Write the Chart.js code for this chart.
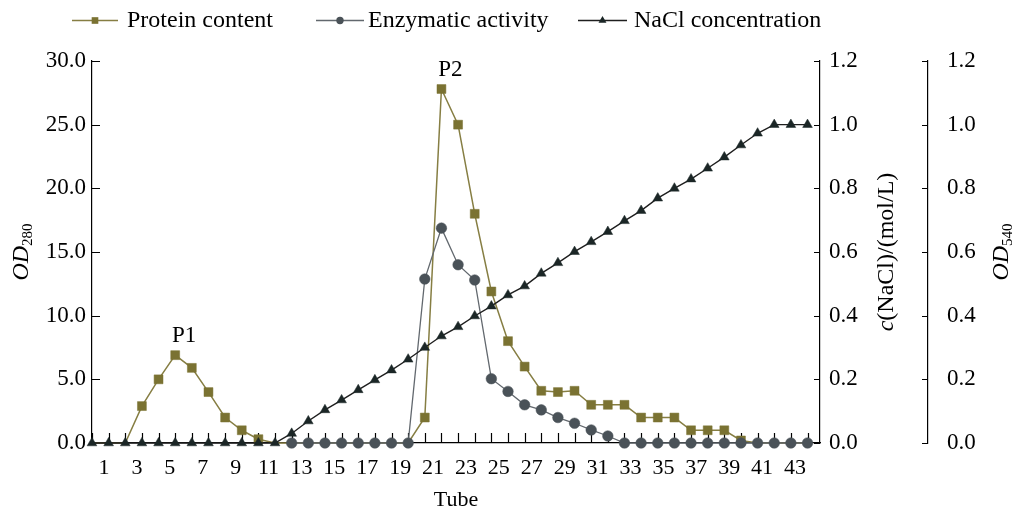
<!DOCTYPE html>
<html>
<head>
<meta charset="utf-8">
<script src="https://cdn.jsdelivr.net/npm/chart.js@4.4.1/dist/chart.umd.min.js"></script>
<style>
  html, body { margin: 0; padding: 0; background: #fff; }
  canvas { display: block; }
</style>
</head>
<body>
<canvas id="chart" width="1014" height="513"></canvas>
<script>
// tube numbers and tick labels
const tubes = [0, 1, 2, 3, 4, 5, 6, 7, 8, 9, 10, 11, 12, 13, 14, 15, 16, 17, 18, 19, 20, 21,
               22, 23, 24, 25, 26, 27, 28, 29, 30, 31, 32, 33, 34, 35, 36, 37, 38, 39, 40, 41, 42, 43];
const tubeTicks = [1, 3, 5, 7, 9, 11, 13, 15, 17, 19, 21, 23, 25, 27, 29, 31, 33, 35, 37, 39, 41, 43];
const od280Ticks = [0, 5, 10, 15, 20, 25, 30];
const naclTicks = [0, 0.2, 0.4, 0.6, 0.8, 1.0, 1.2];
const od540Ticks = [0, 0.2, 0.4, 0.6, 0.8, 1.0, 1.2];

// series (one value per tube)
const protein = [0, 0, 0, 2.9, 5.0, 6.9, 5.9, 4.0, 2.0, 1.0, 0.3, 0, 0, 0, 0, 0, 0, 0, 0, 0,
                 2.0, 27.8, 25.0, 18.0, 11.9, 8.0, 6.0, 4.1, 4.0, 4.1, 3.0, 3.0, 3.0, 2.0, 2.0, 2.0,
                 1.0, 1.0, 1.0, 0.2, 0, 0, 0, 0];
const enzyme = [null, null, null, null, null, null, null, null, null, null, null, null,
                0, 0, 0, 0, 0, 0, 0, 0, 0.515, 0.675, 0.56, 0.512, 0.202, 0.162, 0.12, 0.104,
                0.08, 0.062, 0.041, 0.022, 0, 0, 0, 0, 0, 0, 0, 0, 0, 0, 0, 0];
const nacl = [0, 0, 0, 0, 0, 0, 0, 0, 0, 0, 0, 0, 0.03, 0.069, 0.104, 0.135, 0.167, 0.198, 0.229,
              0.263, 0.30, 0.336, 0.365, 0.399, 0.43, 0.465, 0.493, 0.533, 0.566, 0.601, 0.632,
              0.664, 0.698, 0.730, 0.769, 0.80, 0.829, 0.863, 0.898, 0.936, 0.973, 1.0, 1.0, 1.0];

const seriesNames = ['Protein content', 'Enzymatic activity', 'NaCl concentration'];
const peakNames = ['P1', 'P2'];
const peakTubes = [5, 21];

const SERIF = '"Liberation Serif", "Times New Roman", serif';
Chart.defaults.font.family = SERIF;
Chart.defaults.color = '#000';

const lineColors = ['#867e43', '#62686e', '#1e1e1e'];
const markColors = ['#7a7232', '#4a5258', '#1b2626'];
const markStyles = ['rect', 'circle', 'triangle'];

function toPoints(values) {
    return values.map((v, i) => ({ x: tubes[i], y: v }));
}

function drawMarker(ctx, style, x, y, r, color) {
    ctx.fillStyle = color;
    ctx.beginPath();
    if (style === 'rect') {
        const s = r * Math.SQRT1_2;
        ctx.rect(x - s, y - s, 2 * s, 2 * s);
    } else if (style === 'circle') {
        ctx.arc(x, y, r, 0, Math.PI * 2);
    } else {
        ctx.moveTo(x, y - r);
        ctx.lineTo(x + r * 0.866, y + r * 0.5);
        ctx.lineTo(x - r * 0.866, y + r * 0.5);
        ctx.closePath();
    }
    ctx.fill();
}

// small ticks pointing into the plot, like the original figure
const inwardTicks = {
    id: 'inwardTicks',
    beforeDatasetsDraw(chart) {
        const { ctx, chartArea, scales } = chart;
        ctx.save();
        ctx.strokeStyle = '#000';
        ctx.lineWidth = 1.2;
        ctx.beginPath();
        tubes.forEach(t => {
            const px = Math.round(scales.x.getPixelForValue(t)) + 0.5;
            ctx.moveTo(px, chartArea.bottom);
            ctx.lineTo(px, chartArea.bottom - 10);
        });
        od280Ticks.forEach(v => {
            const py = Math.round(scales.y.getPixelForValue(v)) + 0.5;
            ctx.moveTo(chartArea.left, py);
            ctx.lineTo(chartArea.left + 8, py);
        });
        naclTicks.forEach(v => {
            const py = Math.round(scales.yNaCl.getPixelForValue(v)) + 0.5;
            ctx.moveTo(chartArea.right, py);
            ctx.lineTo(chartArea.right - 6, py);
        });
        od540Ticks.forEach(v => {
            const py = Math.round(scales.yOD.getPixelForValue(v)) + 0.5;
            ctx.moveTo(scales.yOD.left, py);
            ctx.lineTo(scales.yOD.left - 6, py);
        });
        ctx.stroke();
        ctx.restore();
    }
};

function drawRotated(ctx, cx, cy, parts) {
    ctx.save();
    ctx.translate(cx, cy);
    ctx.rotate(-Math.PI / 2);
    let total = 0;
    parts.forEach(p => { ctx.font = p.font; total += ctx.measureText(p.text).width; });
    let x = -total / 2;
    ctx.textBaseline = 'middle';
    ctx.fillStyle = '#000';
    parts.forEach(p => {
        ctx.font = p.font;
        ctx.fillText(p.text, x, p.dy || 0);
        x += ctx.measureText(p.text).width;
    });
    ctx.restore();
}

// axis titles with italics / subscripts, legend and peak labels
const extras = {
    id: 'extras',
    afterDraw(chart) {
        const { ctx, chartArea, scales } = chart;
        const midY = (chartArea.top + chartArea.bottom) / 2;
        const it = 'italic 24px ' + SERIF;
        const rg = '24px ' + SERIF;
        const sub = '15px ' + SERIF;

        drawRotated(ctx, 22, midY, [{ text: 'OD', font: it }, { text: '280', font: sub, dy: 6 }]);
        drawRotated(ctx, scales.yNaCl.left + 67, midY, [{ text: 'c', font: it }, { text: '(NaCl)/(mol/L)', font: rg }]);
        drawRotated(ctx, scales.yOD.left + 74, midY, [{ text: 'OD', font: it }, { text: '540', font: sub, dy: 6 }]);

        // legend
        const lineX = [[72, 118], [316, 364], [578, 627]];
        const textX = [127, 368, 634];
        const markR = [4.7, 3.7, 4.6];
        ctx.save();
        seriesNames.forEach((name, i) => {
            ctx.strokeStyle = lineColors[i];
            ctx.lineWidth = 1.5;
            ctx.beginPath();
            ctx.moveTo(lineX[i][0], 20.5);
            ctx.lineTo(lineX[i][1], 20.5);
            ctx.stroke();
            drawMarker(ctx, markStyles[i], (lineX[i][0] + lineX[i][1]) / 2, 20.5, markR[i], markColors[i]);
            ctx.fillStyle = '#000';
            ctx.font = '24px ' + SERIF;
            ctx.textBaseline = 'middle';
            ctx.textAlign = 'left';
            ctx.fillText(name, textX[i], 21);
        });

        // peak names
        ctx.font = '23px ' + SERIF;
        ctx.textAlign = 'center';
        ctx.textBaseline = 'middle';
        peakNames.forEach((name, i) => {
            const t = peakTubes[i];
            const px = scales.x.getPixelForValue(t);
            const py = scales.y.getPixelForValue(protein[t]);
            ctx.fillText(name, px + 9, py - 19);
        });
        ctx.restore();
    }
};

const axisBorder = { display: true, color: '#000', width: 1.2 };
const noGrid = { display: false, drawTicks: false };

new Chart(document.getElementById('chart'), {
    type: 'line',
    data: {
        datasets: [
            {
                label: seriesNames[0],
                data: toPoints(protein),
                xAxisID: 'x', yAxisID: 'y',
                borderColor: lineColors[0], borderWidth: 1.5,
                pointStyle: 'rect',
                pointRadius: c => (c.raw && c.raw.y === 0) ? 0 : 6.3,
                pointBackgroundColor: markColors[0], pointBorderColor: markColors[0], pointBorderWidth: 0.5,
                tension: 0, clip: false, order: 2
            },
            {
                label: seriesNames[1],
                data: toPoints(enzyme),
                xAxisID: 'x', yAxisID: 'yOD',
                borderColor: lineColors[1], borderWidth: 1.3,
                pointStyle: 'circle', pointRadius: 5.3,
                pointBackgroundColor: markColors[1], pointBorderColor: markColors[1], pointBorderWidth: 0.5,
                tension: 0, clip: false, spanGaps: false, order: 1
            },
            {
                label: seriesNames[2],
                data: toPoints(nacl),
                xAxisID: 'x', yAxisID: 'yNaCl',
                borderColor: lineColors[2], borderWidth: 1.4,
                pointStyle: 'triangle', pointRadius: 5.6,
                pointBackgroundColor: markColors[2], pointBorderColor: markColors[2], pointBorderWidth: 0.5,
                tension: 0, clip: false, order: 0
            }
        ]
    },
    options: {
        responsive: false,
        animation: false,
        devicePixelRatio: 1,
        layout: { padding: { top: 61, left: 0, right: 0, bottom: 0 } },
        plugins: { legend: { display: false }, tooltip: { enabled: false } },
        scales: {
            x: { type: 'linear', display: false, min: 0, max: 43.75, bounds: 'data' },
            xLab: {
                type: 'linear', position: 'bottom', min: 0.27, max: 44.52, bounds: 'data',
                afterBuildTicks: s => { s.ticks = tubeTicks.map(v => ({ value: v })); },
                afterFit: s => { s.height = 70; },
                grid: noGrid, border: axisBorder,
                ticks: { autoSkip: false, maxRotation: 0, padding: 12, font: { size: 22 }, callback: v => String(v) },
                title: { display: true, text: 'Tube', font: { size: 22 }, padding: { top: 0, bottom: 0 } }
            },
            y: {
                type: 'linear', position: 'left', min: 0, max: 30, bounds: 'data',
                afterBuildTicks: s => { s.ticks = od280Ticks.map(v => ({ value: v })); },
                afterFit: s => { s.width = 92; },
                grid: noGrid, border: axisBorder,
                ticks: { padding: 6, font: { size: 23 }, callback: v => v.toFixed(1) }
            },
            yNaCl: {
                type: 'linear', position: 'right', min: 0, max: 1.2, bounds: 'data', weight: 0,
                afterBuildTicks: s => { s.ticks = naclTicks.map(v => ({ value: v })); },
                afterFit: s => { s.width = 108; },
                grid: noGrid, border: axisBorder,
                ticks: { padding: 9, font: { size: 23 }, callback: v => v.toFixed(1) }
            },
            yOD: {
                type: 'linear', position: 'right', min: 0, max: 1.2, bounds: 'data', weight: 1,
                afterBuildTicks: s => { s.ticks = od540Ticks.map(v => ({ value: v })); },
                afterFit: s => { s.width = 86; },
                grid: noGrid, border: axisBorder,
                ticks: { padding: 19, font: { size: 23 }, callback: v => v.toFixed(1) }
            }
        }
    },
    plugins: [inwardTicks, extras]
});
</script>
</body>
</html>
